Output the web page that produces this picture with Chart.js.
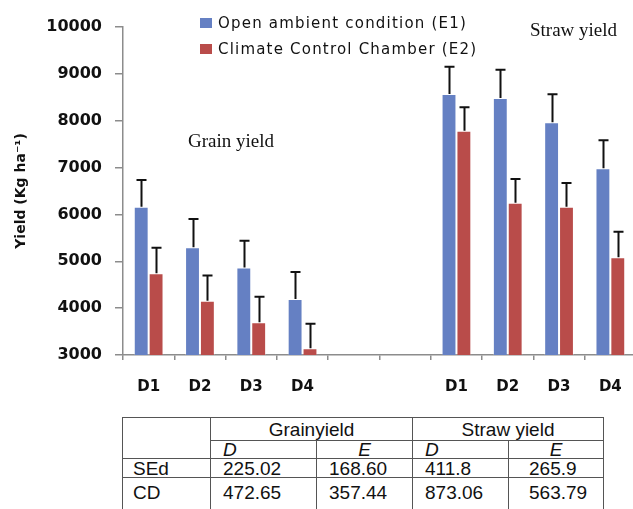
<!DOCTYPE html>
<html>
<head>
<meta charset="utf-8">
<script src="https://cdn.jsdelivr.net/npm/chart.js@4.4.1/dist/chart.umd.min.js"></script>
<style>
  html, body { margin: 0; padding: 0; background: #ffffff; overflow: hidden; width: 633px; height: 509px; }
  #wrap { position: absolute; left: 0; top: 0; width: 640px; height: 405px; }
  #stats { position: absolute; left: 122px; top: 417px; border-collapse: collapse; table-layout: fixed;
           font-family: "Liberation Sans", Arial, sans-serif; font-size: 19px; color: #111; }
  #stats td { border: 1.5px solid #555; padding: 0; line-height: 17px; white-space: nowrap; overflow: hidden; }
  #stats tr.h1 td { height: 22px; text-align: center; }
  #stats tr.h2 td { height: 17px; font-style: italic; }
  #stats tr.r td { height: 18px; }
</style>
</head>
<body>
<div id="wrap"><canvas id="c" width="640" height="405"></canvas></div>
<table id="stats"></table>
<script>
// Categories: four dates for grain yield, a gap, four dates for straw yield
const categories = ['D1', 'D2', 'D3', 'D4', '', '', 'D1', 'D2', 'D3', 'D4'];

// Mean yield (kg/ha)
const openAmbient    = [6165, 5300, 4870, 4195, null, null, 8570, 8485, 7965, 6985];
const climateChamber = [4745, 4160, 3700, 3145, null, null, 7785, 6250, 6165, 5085];

// Upper error bar lengths (kg/ha)
const openAmbientErr    = [570, 600, 570, 575, null, null, 580, 600, 600, 600];
const climateChamberErr = [545, 535, 545, 520, null, null, 500, 505, 505, 545];

const seriesNames = ['Open ambient condition (E1)', 'Climate Control Chamber (E2)'];

// Y axis range
const yMin = 3000, yMax = 10000, yStep = 1000;

// Statistics table
const tableGroups = ['Grainyield', 'Straw yield'];
const tableSubheads = ['D', 'E', 'D', 'E'];
const tableRowNames = ['SEd', 'CD'];
const sedValues = ['225.02', '168.60', '411.8', '265.9'];
const cdValues  = ['472.65', '357.44', '873.06', '563.79'];

const BLUE = '#6580C3';
const RED = '#B94C4A';
const AXIS = '#8c8c8c';
const FONT = '"DejaVu Sans", Verdana, sans-serif';
const SERIF = '"Liberation Serif", "Times New Roman", serif';

const errorSeries = [openAmbientErr, climateChamberErr];

// Upward error bars with caps, placed with the chart's own scales
const errorBars = {
  id: 'errorBars',
  afterDatasetsDraw(chart) {
    const ctx = chart.ctx;
    const yScale = chart.scales.y;
    ctx.save();
    ctx.strokeStyle = '#111';
    ctx.lineWidth = 2;
    chart.data.datasets.forEach((ds, i) => {
      const meta = chart.getDatasetMeta(i);
      meta.data.forEach((bar, j) => {
        const v = ds.data[j];
        const e = errorSeries[i][j];
        if (v == null || e == null) return;
        const yTop = yScale.getPixelForValue(v + e);
        const x = Math.round(bar.x) + 0.5;
        ctx.beginPath();
        ctx.moveTo(x, bar.y);
        ctx.lineTo(x, yTop);
        ctx.moveTo(x - 5, yTop);
        ctx.lineTo(x + 5, yTop);
        ctx.stroke();
      });
    });
    ctx.restore();
  }
};

// Legend block and the two panel captions
const legendAndCaptions = {
  id: 'legendAndCaptions',
  afterDraw(chart) {
    const ctx = chart.ctx;
    ctx.save();
    ctx.textBaseline = 'middle';
    ctx.textAlign = 'left';
    ctx.font = '15px ' + FONT;
    if ('letterSpacing' in ctx) ctx.letterSpacing = '1.2px';
    chart.data.datasets.forEach((ds, i) => {
      const y = 23 + i * 26;
      ctx.fillStyle = ds.backgroundColor;
      ctx.fillRect(200, y - 5, 12, 10);
      ctx.fillStyle = '#111';
      ctx.fillText(ds.label, 218, y + 1);
    });
    if ('letterSpacing' in ctx) ctx.letterSpacing = '0px';
    ctx.font = '19px ' + SERIF;
    ctx.textBaseline = 'alphabetic';
    ctx.fillStyle = '#111';
    ctx.fillText('Grain yield', 188, 147);
    ctx.fillText('Straw yield', 530, 36);
    ctx.restore();
  }
};

new Chart(document.getElementById('c'), {
  type: 'bar',
  data: {
    labels: categories,
    datasets: [
      { label: seriesNames[0], data: openAmbient, backgroundColor: BLUE,
        borderColor: 'rgba(255,255,255,0.25)', borderWidth: 1,
        categoryPercentage: 0.58, barPercentage: 1.0 },
      { label: seriesNames[1], data: climateChamber, backgroundColor: RED,
        borderColor: 'rgba(255,255,255,0.25)', borderWidth: 1,
        categoryPercentage: 0.58, barPercentage: 1.0 }
    ]
  },
  options: {
    responsive: false,
    animation: false,
    devicePixelRatio: 1,
    layout: { padding: { top: 27, right: 4, left: 0, bottom: 0 } },
    plugins: { legend: { display: false }, tooltip: { enabled: false } },
    scales: {
      x: {
        grid: { drawOnChartArea: false, drawTicks: true, tickLength: 5, color: AXIS, lineWidth: 1.5 },
        border: { color: AXIS, width: 1.5 },
        ticks: { color: '#111', font: { family: FONT, weight: 'bold', size: 15 }, padding: 18, maxRotation: 0, autoSkip: false },
        afterFit(scale) { scale.height = 50; }
      },
      y: {
        min: yMin, max: yMax,
        grid: { drawOnChartArea: false, drawTicks: true, tickLength: 8, color: AXIS, lineWidth: 1.5 },
        border: { color: AXIS, width: 1.5 },
        ticks: { stepSize: yStep, color: '#111', font: { family: FONT, weight: 'bold', size: 16 }, padding: 13,
                 callback: v => String(v) },
        title: { display: true, text: 'Yield (Kg ha\u207B\u00B9)', color: '#111',
                 font: { family: FONT, weight: 'bold', size: 14 }, padding: { top: 13, bottom: 0 } },
        afterFit(scale) { scale.width = 123; }
      }
    }
  },
  plugins: [errorBars, legendAndCaptions]
});

// Build the statistics table
(function () {
  const t = document.getElementById('stats');
  const colW = [88, 106, 96, 96, 95];
  const cg = document.createElement('colgroup');
  colW.forEach(w => { const c = document.createElement('col'); c.style.width = w + 'px'; cg.appendChild(c); });
  t.appendChild(cg);

  const r1 = t.insertRow(); r1.className = 'h1';
  const corner = r1.insertCell(); corner.rowSpan = 2;
  tableGroups.forEach(g => { const c = r1.insertCell(); c.colSpan = 2; c.textContent = g; });

  const r2 = t.insertRow(); r2.className = 'h2';
  tableSubheads.forEach(s => {
    const c = r2.insertCell();
    c.textContent = s;
    if (s === 'D') { c.style.textAlign = 'left'; c.style.paddingLeft = '12px'; }
    else { c.style.textAlign = 'center'; }
  });

  const pads = [12, 12, 12, 20];
  [sedValues, cdValues].forEach((vals, k) => {
    const r = t.insertRow(); r.className = 'r';
    const nameCell = r.insertCell();
    nameCell.textContent = tableRowNames[k];
    nameCell.style.paddingLeft = '10px';
    vals.forEach((v, i) => {
      const c = r.insertCell();
      c.textContent = v;
      c.style.paddingLeft = pads[i] + 'px';
    });
    if (k === 1) Array.from(r.cells).forEach(c => { c.style.height = '30px'; c.style.verticalAlign = 'top'; c.style.paddingTop = '6px'; });
  });
})();
</script>
</body>
</html>
